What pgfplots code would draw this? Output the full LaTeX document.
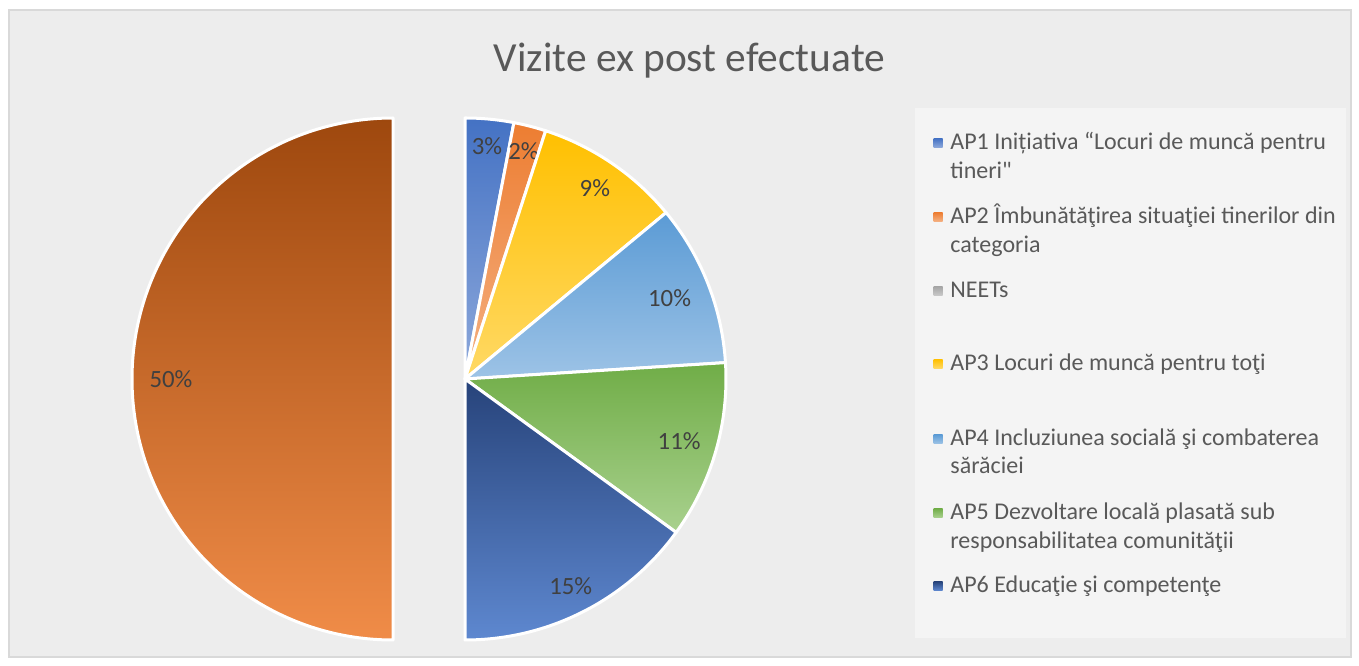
\documentclass[border=0pt]{standalone}
\usepackage{pgfplots}
\pgfplotsset{compat=1.18}
\usepackage{pgfplotstable}
\usepackage{fontspec}
\setmainfont{Carlito}[Ligatures=TeXOff]

\definecolor{top0}{HTML}{4472C4}\definecolor{bot0}{HTML}{8EA9DB}
\definecolor{top1}{HTML}{ED7D31}\definecolor{bot1}{HTML}{F4B183}
\definecolor{top2}{HTML}{A5A5A5}\definecolor{bot2}{HTML}{C9C9C9}
\definecolor{top3}{HTML}{FFC000}\definecolor{bot3}{HTML}{FFD966}
\definecolor{top4}{HTML}{5B9BD5}\definecolor{bot4}{HTML}{9DC3E6}
\definecolor{top5}{HTML}{70AD47}\definecolor{bot5}{HTML}{A9D18E}
\definecolor{top6}{HTML}{27437A}\definecolor{bot6}{HTML}{5E88D0}
\definecolor{top7}{HTML}{9E480E}\definecolor{bot7}{HTML}{F08C48}
\definecolor{bgc}{HTML}{EDEDED}
\definecolor{frame}{HTML}{D9D9D9}
\definecolor{legbg}{HTML}{F4F4F4}
\definecolor{txt}{HTML}{595959}
\definecolor{lab}{HTML}{404040}

% value in %, explode offset (px), label radius (px)
\pgfplotstableread{
idx value explode labr
0 3 0 234
1 2 0 235
2 0 0 230
3 9 0 231
4 10 0 220
5 11 0 223
6 15 0 233
7 50 72 222
}\piedata

\begin{document}
\begin{tikzpicture}
\begin{axis}[hide axis, scale only axis, width=679.5bp, height=333bp,
  xmin=0, xmax=1359, ymin=0, ymax=666, clip=false]
% background and frame
\path[fill=white] (axis cs:0,0) rectangle (axis cs:1359,666);
\path[fill=bgc, draw=frame, line width=1bp] (axis cs:9,9) rectangle (axis cs:1351,656);
\path[fill=legbg] (axis cs:915,28) rectangle (axis cs:1346,558);
% title
\node[anchor=base, inner sep=0pt, text=txt, font=\fontsize{20.7bp}{24bp}\selectfont] at (axis cs:689.5,594) {Vizite ex post efectuate};
% pie
\def\cx{465}\def\cy{287}\def\R{261}
\def\startang{90}
\pgfplotsforeachungrouped \i in {0,...,7}{%
  \pgfplotstablegetelem{\i}{value}\of\piedata \let\val\pgfplotsretval
  \pgfplotstablegetelem{\i}{explode}\of\piedata \let\ex\pgfplotsretval
  \pgfplotstablegetelem{\i}{labr}\of\piedata \let\lr\pgfplotsretval
  \pgfmathsetmacro\endang{\startang-3.6*\val}%
  \pgfmathsetmacro\midang{(\startang+\endang)/2}%
  \pgfmathsetmacro\ox{\cx+\ex*cos(\midang)}%
  \pgfmathsetmacro\oy{\cy+\ex*sin(\midang)}%
  \pgfmathsetmacro\sx{\ox+\R*cos(\startang)}%
  \pgfmathsetmacro\sy{\oy+\R*sin(\startang)}%
  \pgfmathsetmacro\lx{\ox+\lr*cos(\midang)}%
  \pgfmathsetmacro\ly{\oy+\lr*sin(\midang)}%
  \ifdim\val pt>0pt
    \edef\cmd{\noexpand\path[draw=white, line width=1.5bp, line join=round, top color=top\i, bottom color=bot\i]
      (axis cs:\ox,\oy) -- (axis cs:\sx,\sy) arc[start angle=\startang, end angle=\endang, radius=130.5bp] -- cycle;}%
    \cmd
    \edef\cmd{\noexpand\node[inner sep=0pt, text=lab, font=\noexpand\fontsize{12.4bp}{14bp}\noexpand\selectfont] at (axis cs:\lx,\ly) {\val\noexpand\%};}%
    \cmd
  \fi
  \let\startang\endang
}
% legend
\begin{scope}[every node/.style={anchor=base west, inner sep=0pt, text=txt, font=\fontsize{12bp}{14bp}\selectfont}]
\node at (axis cs:950,516) {AP1 Inițiativa “Locuri de muncă pentru};
\node at (axis cs:950,487) {tineri"};
\node at (axis cs:950,442) {AP2 Îmbunătăţirea situaţiei tinerilor din};
\node at (axis cs:950,413) {categoria};
\node at (axis cs:950,368) {NEETs};
\node at (axis cs:950,295) {AP3 Locuri de muncă pentru toţi};
\node at (axis cs:950,220) {AP4 Incluziunea socială şi combaterea};
\node at (axis cs:950,192) {sărăciei};
\node at (axis cs:950,146) {AP5 Dezvoltare locală plasată sub};
\node at (axis cs:950,117) {responsabilitatea comunităţii};
\node at (axis cs:950,73) {AP6 Educaţie şi competenţe};
\end{scope}
\path[top color=top0, bottom color=bot0] (axis cs:933.5,518.5) rectangle (axis cs:942.5,527.5);
\path[top color=top1, bottom color=bot1] (axis cs:933.5,444.5) rectangle (axis cs:942.5,453.5);
\path[top color=top2, bottom color=bot2] (axis cs:933.5,370.5) rectangle (axis cs:942.5,379.5);
\path[top color=top3, bottom color=bot3] (axis cs:933.5,297.5) rectangle (axis cs:942.5,306.5);
\path[top color=top4, bottom color=bot4] (axis cs:933.5,222.5) rectangle (axis cs:942.5,231.5);
\path[top color=top5, bottom color=bot5] (axis cs:933.5,148.5) rectangle (axis cs:942.5,157.5);
\path[top color=top6, bottom color=bot6] (axis cs:933.5,75.5) rectangle (axis cs:942.5,84.5);
\end{axis}
\end{tikzpicture}
\end{document}
